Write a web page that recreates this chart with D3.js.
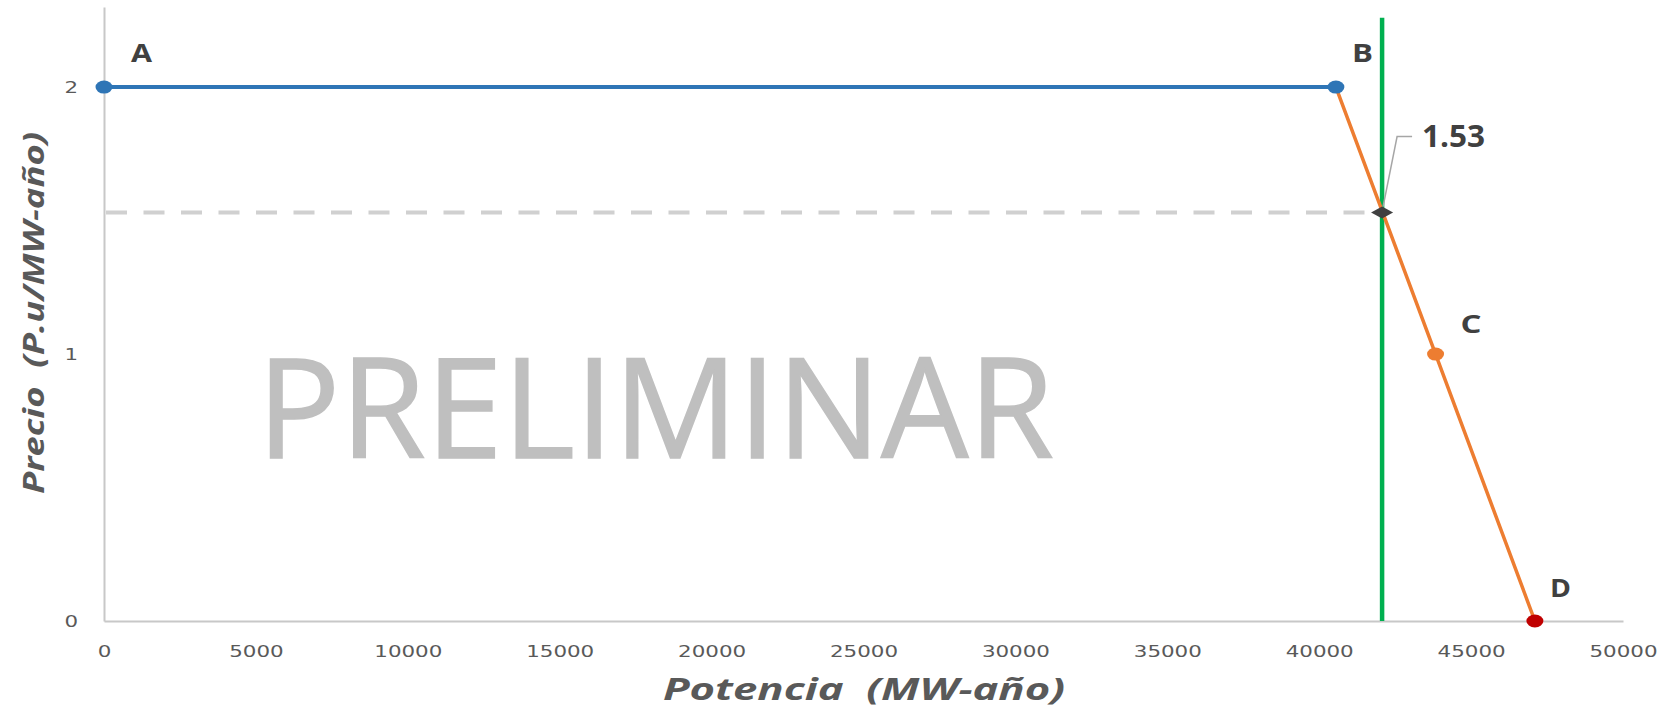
<!DOCTYPE html>
<html>
<head>
<meta charset="utf-8">
<script src="https://cdn.jsdelivr.net/npm/d3@7"></script>
<style>
  body { margin: 0; background: #fff; }
  svg { display: block; }
</style>
</head>
<body>
<div id="chart"></div>
<script>
// data
const supplyFlat = [[0, 2], [40550, 2]];                 // A -> B
const supplySlope = [[40550, 2], [43830, 1], [47100, 0]]; // B -> C -> D
const pointNames = ["A", "B", "C", "D"];
const pointValues = [[0, 2], [40550, 2], [43830, 1], [47100, 0]];
const demandPower = 42070;   // green vertical line
const demandTop = 2.26;
const clearingPrice = 1.53;
const xTicks = [0, 5000, 10000, 15000, 20000, 25000, 30000, 35000, 40000, 45000, 50000];
const yTicks = [0, 1, 2];

function drawChart() {
    let w = 1657;
    let h = 712;
    let margin = {top: 7, right: 34, bottom: 91, left: 104};

    let svg = d3.select("#chart")
                .append("svg")
                .attr("width", w)
                .attr("height", h);

    let x = d3.scaleLinear()
              .domain([0, 50000])
              .range([margin.left, w - margin.right]);
    let y = d3.scaleLinear()
              .domain([0, 2.3])
              .range([h - margin.bottom, margin.top]);

    const tickColor = "#595959";
    const labelColor = "#404040";

    // watermark
    svg.append("text")
        .attr("x", 257)
        .attr("y", 458)
        .attr("textLength", 797)
        .attr("lengthAdjust", "spacingAndGlyphs")
        .style("font-family", "'Open Sans', sans-serif")
        .style("font-size", "140px")
        .style("fill", "#bfbfbf")
        .style("stroke", "#bfbfbf")
        .style("stroke-width", 1.5)
        .text("PRELIMINAR");

    // axes
    let xAxis = svg.append("g")
        .attr("transform", `translate(0, ${y(0)})`)
        .call(d3.axisBottom(x).tickValues(xTicks).tickSize(0).tickSizeOuter(0).tickPadding(25).tickFormat(d3.format("d")));
    let yAxis = svg.append("g")
        .attr("transform", `translate(${x(0)}, 0)`)
        .call(d3.axisLeft(y).tickValues(yTicks).tickSize(0).tickSizeOuter(0).tickPadding(26).tickFormat(d3.format("d")));

    [xAxis, yAxis].forEach(a => {
        a.select(".domain").attr("stroke", "#c8c8c8").attr("stroke-width", 2);
        a.selectAll("text")
            .style("font-family", "'DejaVu Sans', sans-serif")
            .style("font-size", "16px")
            .style("fill", tickColor)
            .attr("lengthAdjust", "spacingAndGlyphs")
            .attr("textLength", d => String(d).length * 13.6);
    });

    // dashed price line
    svg.append("line")
        .attr("x1", x(0))
        .attr("x2", x(demandPower))
        .attr("y1", y(clearingPrice))
        .attr("y2", y(clearingPrice))
        .attr("stroke", "#d0d0d0")
        .attr("stroke-width", 4)
        .attr("stroke-dasharray", "21,16.5")
        .attr("stroke-dashoffset", -2);

    // demand line
    svg.append("line")
        .attr("x1", x(demandPower))
        .attr("x2", x(demandPower))
        .attr("y1", y(0))
        .attr("y2", y(demandTop))
        .attr("stroke", "#00b050")
        .attr("stroke-width", 4.5);

    let line = d3.line()
        .x(d => x(d[0]))
        .y(d => y(d[1]));

    svg.append("path")
        .datum(supplySlope)
        .attr("d", line)
        .attr("fill", "none")
        .attr("stroke", "#ed7d31")
        .attr("stroke-width", 3.5);

    svg.append("path")
        .datum(supplyFlat)
        .attr("d", line)
        .attr("fill", "none")
        .attr("stroke", "#2e75b6")
        .attr("stroke-width", 4);

    // markers
    const markerColors = ["#2e75b6", "#2e75b6", "#ed7d31", "#c00000"];
    svg.selectAll("ellipse.pt")
        .data(pointValues)
        .enter()
        .append("ellipse")
        .attr("class", "pt")
        .attr("cx", d => x(d[0]))
        .attr("cy", d => y(d[1]))
        .attr("rx", 8.5)
        .attr("ry", 6.5)
        .attr("fill", (d, i) => markerColors[i]);

    // clearing point diamond
    let cx = x(demandPower), cy = y(clearingPrice);
    svg.append("path")
        .attr("d", `M${cx - 11},${cy} L${cx},${cy - 6} L${cx + 11},${cy} L${cx},${cy + 6} Z`)
        .attr("fill", "#404040");

    // leader line and value label
    svg.append("path")
        .attr("d", `M${cx + 1},${cy - 6} L${cx + 15},${cy - 76} L${cx + 30},${cy - 76}`)
        .attr("fill", "none")
        .attr("stroke", "#a6a6a6")
        .attr("stroke-width", 1.5);
    svg.append("text")
        .attr("x", cx + 40)
        .attr("y", cy - 66)
        .attr("textLength", 63)
        .attr("lengthAdjust", "spacingAndGlyphs")
        .style("font-family", "'Open Sans', sans-serif")
        .style("font-weight", "bold")
        .style("font-size", "30px")
        .style("fill", labelColor)
        .text(d3.format(".2f")(clearingPrice));

    // point letters
    const letterOffsets = [[27, -25], [16, -25], [25, -21], [15, -24]];
    svg.selectAll("text.letter")
        .data(pointValues)
        .enter()
        .append("text")
        .attr("class", "letter")
        .attr("x", (d, i) => x(d[0]) + letterOffsets[i][0])
        .attr("y", (d, i) => y(d[1]) + letterOffsets[i][1])
        .attr("textLength", 21)
        .attr("lengthAdjust", "spacingAndGlyphs")
        .style("font-family", "'Open Sans', sans-serif")
        .style("font-weight", "bold")
        .style("font-size", "25px")
        .style("fill", labelColor)
        .text((d, i) => pointNames[i]);

    // axis titles
    svg.append("text")
        .attr("x", 864)
        .attr("y", 700)
        .attr("text-anchor", "middle")
        .attr("textLength", 402)
        .attr("lengthAdjust", "spacingAndGlyphs")
        .style("font-family", "'Open Sans', sans-serif")
        .style("font-weight", "bold")
        .style("font-style", "italic")
        .style("font-size", "31px")
        .style("fill", tickColor)
        .style("white-space", "pre")
        .text("Potencia  (MW-año)");

    svg.append("text")
        .attr("transform", "translate(44, 313) rotate(-90)")
        .attr("text-anchor", "middle")
        .attr("textLength", 362)
        .attr("lengthAdjust", "spacingAndGlyphs")
        .style("font-family", "'Open Sans', sans-serif")
        .style("font-weight", "bold")
        .style("font-style", "italic")
        .style("font-size", "29px")
        .style("fill", tickColor)
        .style("white-space", "pre")
        .text("Precio  (P.u/MW-año)");
}

drawChart();
</script>
</body>
</html>
